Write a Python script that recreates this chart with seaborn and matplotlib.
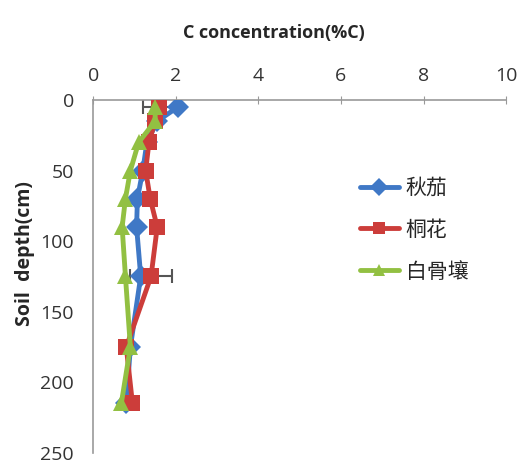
import matplotlib
matplotlib.use("Agg")
import matplotlib.pyplot as plt
import seaborn as sns
import pandas as pd
import numpy as np
from matplotlib.lines import Line2D

depths = [5, 15, 30, 50, 70, 90, 125, 175, 215]
series_names = ["秋茄", "桐花", "白骨壤"]
qiuqie = [2.05, 1.55, 1.30, 1.20, 1.07, 1.05, 1.15, 0.90, 0.80]
tonghua = [1.60, 1.50, 1.35, 1.27, 1.38, 1.55, 1.40, 0.80, 0.95]
baigurang = [1.50, 1.50, 1.10, 0.90, 0.78, 0.70, 0.78, 0.90, 0.68]
# error bars (x-direction): series, depth, value, error
err_series = ["桐花", "桐花"]
err_depths = [5, 125]
err_values = [1.60, 1.40]
err_sizes = [0.40, 0.50]

x_ticks = [0, 2, 4, 6, 8, 10]
y_ticks = [0, 50, 100, 150, 200, 250]

colors = {"秋茄": "#3f78c6", "桐花": "#cc3d3a", "白骨壤": "#92c042"}
markers = {"秋茄": "D", "桐花": "s", "白骨壤": "^"}

rows = []
for name, vals in zip(series_names, [qiuqie, tonghua, baigurang]):
    for d, v in zip(depths, vals):
        rows.append({"series": name, "depth": d, "C": v})
df = pd.DataFrame(rows)

sns.set_style("white")
plt.rcParams["font.family"] = ["Open Sans", "Noto Sans CJK SC", "DejaVu Sans"]

fig = plt.figure(figsize=(5.18, 4.63), dpi=100)
ax = fig.add_axes([0.18, 0.022, 0.797, 0.762])

for name, ev, ed, es in zip(err_series, err_values, err_depths, err_sizes):
    ax.errorbar([ev], [ed], xerr=[es], fmt="none", ecolor="#555555",
                elinewidth=1.5, capsize=5, capthick=1.5, zorder=1)

sns.lineplot(data=df, x="C", y="depth", hue="series", style="series",
             hue_order=series_names, style_order=series_names,
             palette=colors, markers=markers, dashes=False, sort=False,
             orient="y", estimator=None, lw=3.5, markersize=11,
             markeredgewidth=0, ax=ax, legend=False, zorder=3)

ax.set_xlim(0, 10)
ax.set_ylim(250, 0)
ax.set_xticks(x_ticks)
ax.set_yticks(y_ticks)
ax.xaxis.tick_top()
ax.xaxis.set_label_position("top")
ax.tick_params(axis="x", direction="inout", length=6, color="#999999",
               labelsize=14, pad=8, labelcolor="#333333")
ax.tick_params(axis="y", direction="out", length=5, color="#999999",
               labelsize=14, pad=9, labelcolor="#333333")
for s in ["right", "bottom"]:
    ax.spines[s].set_visible(False)
ax.spines["top"].set_color("#999999")
ax.spines["left"].set_color("#999999")
ax.spines["top"].set_linewidth(1.2)
ax.spines["left"].set_linewidth(1.2)

ax.set_xlabel("C concentration(%C)", fontsize=13, fontweight="bold")
ax.xaxis.set_label_coords(0.438, 1.175)
ax.set_ylabel("Soil  depth(cm)", fontsize=14, fontweight="bold")
ax.yaxis.set_label_coords(-0.14, 0.565)

handles = [Line2D([0], [0], color=colors[n], marker=markers[n], lw=3.5,
                  markersize=9, markeredgewidth=0) for n in series_names]
leg = ax.legend(handles, series_names, loc="upper left",
                bbox_to_anchor=(0.6, 0.835), frameon=False,
                handlelength=1.9, labelspacing=0.95, handletextpad=0.3,
                prop={"family": ["Noto Sans CJK SC", "DejaVu Sans"], "size": 15})

fig.savefig("out.png", dpi=100)
